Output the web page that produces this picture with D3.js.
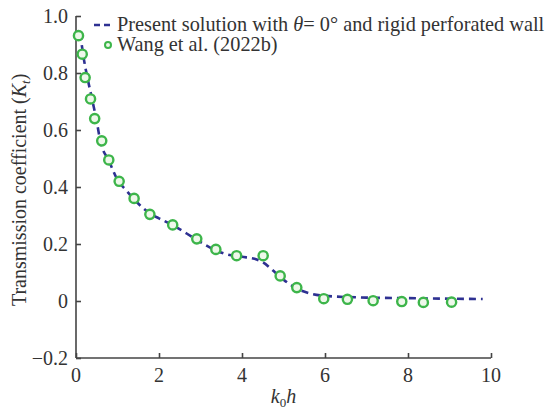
<!DOCTYPE html>
<html>
<head>
<meta charset="utf-8">
<script src="https://cdn.jsdelivr.net/npm/d3@7"></script>
<style>
  body { margin: 0; background: #fff; }
</style>
</head>
<body>
<div id="chart"></div>
<script>
// Present solution (dashed line)
var lineX = [0.1, 0.2, 0.27, 0.4, 0.5, 0.58, 0.8, 1.0, 1.2, 1.4, 1.6, 1.8, 2.0, 2.4, 2.8, 3.2, 3.6, 4.0, 4.3, 4.5, 4.8, 5.0, 5.3, 5.6, 6.0, 7.0, 8.0, 9.0, 9.8];
var lineY = [0.94, 0.84, 0.787, 0.70, 0.63, 0.565, 0.49, 0.425, 0.39, 0.357, 0.328, 0.305, 0.29, 0.26, 0.225, 0.19, 0.165, 0.155, 0.148, 0.136, 0.10, 0.075, 0.045, 0.028, 0.018, 0.012, 0.01, 0.008, 0.007];

// Wang et al. (2022b) (circles)
var ptsX = [0.06, 0.15, 0.22, 0.35, 0.45, 0.62, 0.79, 1.04, 1.40, 1.78, 2.33, 2.91, 3.37, 3.87, 4.51, 4.92, 5.32, 5.97, 6.54, 7.16, 7.85, 8.37, 9.05];
var ptsY = [0.931, 0.866, 0.784, 0.709, 0.640, 0.562, 0.495, 0.420, 0.360, 0.304, 0.267, 0.218, 0.181, 0.159, 0.159, 0.088, 0.047, 0.008, 0.006, 0.001, -0.002, -0.005, -0.004];

var xTicks = [0, 2, 4, 6, 8, 10];
var yTicks = [-0.2, 0, 0.2, 0.4, 0.6, 0.8, 1.0];

var width = 549, height = 410;
var margin = {top: 16, right: 58, bottom: 52, left: 76};

var svg = d3.select('#chart').append('svg')
  .attr('width', width)
  .attr('height', height)
  .attr('font-family', '"Liberation Serif", "Times New Roman", Times, "DejaVu Serif", serif');

var x = d3.scaleLinear().domain([0, 10]).range([margin.left, width - margin.right]);
var y = d3.scaleLinear().domain([-0.2, 1.0]).range([height - margin.bottom, margin.top]);

var axisColor = '#444';
var textColor = '#333';
var fs = 20;

// x axis, ticks pointing up into the plot
var xAxis = svg.append('g')
  .attr('transform', 'translate(0,' + y(-0.2) + ')')
  .call(d3.axisTop(x).tickValues(xTicks).tickSize(5).tickFormat(''));
xAxis.select('.domain').attr('d', 'M' + x(0) + ',0H' + x(10));

// y axis, ticks pointing right into the plot
var yAxis = svg.append('g')
  .attr('transform', 'translate(' + x(0) + ',0)')
  .call(d3.axisRight(y).tickValues(yTicks).tickSize(5).tickFormat(''));
yAxis.select('.domain').attr('d', 'M0,' + y(1.0) + 'V' + y(-0.2));

svg.selectAll('.domain, .tick line')
  .attr('stroke', axisColor)
  .attr('stroke-width', 1.6);

// tick labels
svg.append('g').selectAll('text')
  .data(xTicks).join('text')
  .attr('x', function(d) { return x(d); })
  .attr('y', y(-0.2) + 24)
  .attr('text-anchor', 'middle')
  .attr('font-size', fs)
  .attr('fill', textColor)
  .text(function(d) { return d; });

svg.append('g').selectAll('text')
  .data(yTicks).join('text')
  .attr('x', x(0) - 8)
  .attr('y', function(d) { return y(d) + 7; })
  .attr('text-anchor', 'end')
  .attr('font-size', fs)
  .attr('fill', textColor)
  .text(function(d) { return d === 0 ? '0' : (d < 0 ? '\u2212' + (-d).toFixed(1) : d.toFixed(1)); });

// axis titles
var xt = svg.append('text')
  .attr('x', (x(0) + x(10)) / 2)
  .attr('y', height - 7)
  .attr('text-anchor', 'middle')
  .attr('font-size', fs)
  .attr('fill', textColor);
xt.append('tspan').attr('font-style', 'italic').text('k');
xt.append('tspan').attr('font-size', 13).attr('dy', 4).text('0');
xt.append('tspan').attr('font-style', 'italic').attr('dy', -4).text('h');

var yt = svg.append('text')
  .attr('transform', 'translate(26,' + y(0.39) + ') rotate(-90)')
  .attr('text-anchor', 'middle')
  .attr('font-size', fs)
  .attr('fill', textColor);
yt.append('tspan').text('Transmission coefficient (');
yt.append('tspan').attr('font-style', 'italic').text('K');
yt.append('tspan').attr('font-size', 13).attr('dy', 4).attr('font-style', 'italic').text('t');
yt.append('tspan').attr('dy', -4).text(')');

// dashed line
var lineData = lineX.map(function(d, i) { return [d, lineY[i]]; });
var line = d3.line()
  .x(function(d) { return x(d[0]); })
  .y(function(d) { return y(d[1]); })
  .curve(d3.curveMonotoneX);

var navy = '#2e3192';
var green = '#3db54a';

svg.append('path')
  .datum(lineData)
  .attr('d', line)
  .attr('fill', 'none')
  .attr('stroke', navy)
  .attr('stroke-width', 2.6)
  .attr('stroke-dasharray', '7,5');

// circles
svg.append('g').selectAll('circle')
  .data(ptsX.map(function(d, i) { return [d, ptsY[i]]; }))
  .join('circle')
  .attr('cx', function(d) { return x(d[0]); })
  .attr('cy', function(d) { return y(d[1]); })
  .attr('r', 4.6)
  .attr('fill', '#eef8ea')
  .attr('stroke', green)
  .attr('stroke-width', 2.4);

// legend
var lg = svg.append('g');
lg.append('line')
  .attr('x1', 94).attr('x2', 114)
  .attr('y1', 25).attr('y2', 25)
  .attr('stroke', navy)
  .attr('stroke-width', 2.6)
  .attr('stroke-dasharray', '6,4');
var l1 = lg.append('text')
  .attr('x', 117).attr('y', 31)
  .attr('font-size', 20.3)
  .attr('fill', textColor);
l1.append('tspan').text('Present solution with ');
l1.append('tspan').attr('font-style', 'italic').text('\u03b8');
l1.append('tspan').text('= 0\u00b0 and rigid perforated wall');

lg.append('circle')
  .attr('cx', 108).attr('cy', 45)
  .attr('r', 3)
  .attr('fill', '#eef8ea')
  .attr('stroke', green)
  .attr('stroke-width', 2);
lg.append('text')
  .attr('x', 117).attr('y', 51)
  .attr('font-size', 20.3)
  .attr('fill', textColor)
  .text('Wang et al. (2022b)');
</script>
</body>
</html>
